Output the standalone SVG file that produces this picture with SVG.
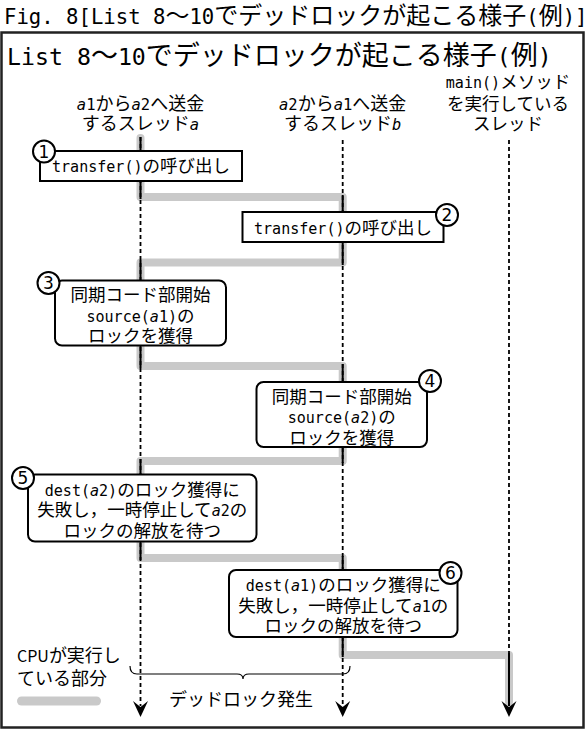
<svg xmlns="http://www.w3.org/2000/svg" width="587" height="731" viewBox="0 0 587 731">
<style>
text { font-family: "Noto Sans CJK JP", sans-serif; fill: #000; }
.m { font-family: "DejaVu Sans Mono", "Noto Sans CJK JP", monospace; font-size: 0.86em; }
.i { font-style: italic; }
.c { text-anchor: middle; }
.t { font-size: 17.5px; }
.box { fill: #fff; stroke: #000; stroke-width: 2; }
.num { fill: #fff; stroke: #000; stroke-width: 2; }
.dg { font-family: "DejaVu Sans", sans-serif; font-size: 17px; text-anchor: middle; }
.life { stroke: #000; stroke-width: 1.8; stroke-dasharray: 4 3; fill: none; }
.run { stroke: #000; stroke-width: 2; fill: none; }
.cpu { stroke: #c9c9c9; stroke-width: 8; fill: none; stroke-linejoin: round; stroke-linecap: round; }
</style>
<defs>
<path id="ah" d="M-7.5,-16 L0,0 L7.5,-16 L0,-10 Z" fill="#000"/>
</defs>
<rect width="587" height="731" fill="#fff"/>
<text x="4" y="24" font-size="24"><tspan class="m" font-size="19.5">Fig. 8[List 8</tspan>〜<tspan class="m" font-size="19.5">10</tspan>でデッドロックが起こる様子<tspan class="m" font-size="19.5">(</tspan>例<tspan class="m" font-size="19.5">)]</tspan></text>
<rect x="1.5" y="32.5" width="582" height="695" fill="none" stroke="#222" stroke-width="2.5"/>
<text x="7" y="65" font-size="27"><tspan class="m" font-size="23">List 8</tspan>〜<tspan class="m" font-size="23">10</tspan>でデッドロックが起こる様子<tspan class="m" font-size="23">(</tspan>例<tspan class="m" font-size="23">)</tspan></text>

<g id="thread-a">
<text class="c" x="140.5" y="110" font-size="18"><tspan class="m i">a</tspan><tspan class="m">1</tspan>から<tspan class="m i">a</tspan><tspan class="m">2</tspan>へ送金</text>
<text class="c" x="140.5" y="130" font-size="18">するスレッド<tspan class="m i">a</tspan></text>
</g>
<g id="thread-b">
<text class="c" x="342.7" y="110" font-size="18"><tspan class="m i">a</tspan><tspan class="m">2</tspan>から<tspan class="m i">a</tspan><tspan class="m">1</tspan>へ送金</text>
<text class="c" x="342.7" y="130" font-size="18">するスレッド<tspan class="m i">b</tspan></text>
</g>
<g id="thread-main">
<text class="c" x="508" y="88" font-size="17.5"><tspan class="m">main()</tspan>メソッド</text>
<text class="c" x="508" y="109.5" font-size="17.5">を実行している</text>
<text class="c" x="508" y="130" font-size="17.5">スレッド</text>
</g>

<g id="connectors">
<path class="cpu" d="M140.5,138 V197 H342.7 V262.5 H140.5 V366 H342.7 V461 H140.5 V558 H342.7 V655 H509 V702"/>
<line class="life" x1="140.5" y1="137" x2="140.5" y2="706"/>
<line class="life" x1="342.7" y1="140" x2="342.7" y2="706"/>
<line class="life" x1="509" y1="140" x2="509" y2="706"/>
<path class="run" d="M140.5,137 V199 M140.5,260 V368 M140.5,459 V560 M342.7,195 V265 M342.7,364 V463 M342.7,556 V657 M509,653 V706"/>
<use href="#ah" x="140.5" y="717"/>
<use href="#ah" x="342.7" y="717"/>
<use href="#ah" x="509" y="717"/>
<path d="M130,666 Q130,674 137,674 H237 Q243,674 243,679 Q243,674 249,674 H343 Q350,674 350,666" fill="none" stroke="#000" stroke-width="1.2"/>
</g>

<g id="step1">
<rect class="box" x="40" y="151" width="202" height="30"/>
<text class="c t" x="141" y="172"><tspan class="m">transfer()</tspan>の呼び出し</text>
<circle class="num" cx="44" cy="151.5" r="11"/>
<text class="dg" x="44" y="157.5">1</text>
</g>
<g id="step2">
<rect class="box" x="242.5" y="212" width="201" height="30"/>
<text class="c t" x="343" y="233.5"><tspan class="m">transfer()</tspan>の呼び出し</text>
<circle class="num" cx="447" cy="215" r="11"/>
<text class="dg" x="447" y="221">2</text>
</g>
<g id="step3">
<rect class="box" x="55" y="280.5" width="171" height="65" rx="7"/>
<text class="c t" x="140.5" y="301">同期コード部開始</text>
<text class="c t" x="140.5" y="321.5"><tspan class="m">source(</tspan><tspan class="m i">a</tspan><tspan class="m">1)</tspan>の</text>
<text class="c t" x="140.5" y="342">ロックを獲得</text>
<circle class="num" cx="48.5" cy="283" r="11"/>
<text class="dg" x="48.5" y="289">3</text>
</g>
<g id="step4">
<rect class="box" x="256.5" y="382" width="170.5" height="65" rx="7"/>
<text class="c t" x="341.7" y="402.5">同期コード部開始</text>
<text class="c t" x="341.7" y="423"><tspan class="m">source(</tspan><tspan class="m i">a</tspan><tspan class="m">2)</tspan>の</text>
<text class="c t" x="341.7" y="443.5">ロックを獲得</text>
<circle class="num" cx="430" cy="381" r="11"/>
<text class="dg" x="430" y="387">4</text>
</g>
<g id="step5">
<rect class="box" x="28" y="474.5" width="228.5" height="67" rx="7"/>
<text class="c t" x="142.2" y="495.5"><tspan class="m">dest(</tspan><tspan class="m i">a</tspan><tspan class="m">2)</tspan>のロック獲得に</text>
<text class="c t" x="142.2" y="516">失敗し，一時停止して<tspan class="m i">a</tspan><tspan class="m">2</tspan>の</text>
<text class="c t" x="142.2" y="536.5">ロックの解放を待つ</text>
<circle class="num" cx="23" cy="478" r="11"/>
<text class="dg" x="23" y="484">5</text>
</g>
<g id="step6">
<rect class="box" x="229" y="570" width="228.5" height="67" rx="7"/>
<text class="c t" x="343.2" y="591"><tspan class="m">dest(</tspan><tspan class="m i">a</tspan><tspan class="m">1)</tspan>のロック獲得に</text>
<text class="c t" x="343.2" y="611.5">失敗し，一時停止して<tspan class="m i">a</tspan><tspan class="m">1</tspan>の</text>
<text class="c t" x="343.2" y="632">ロックの解放を待つ</text>
<circle class="num" cx="450.5" cy="573" r="11"/>
<text class="dg" x="450.5" y="579">6</text>
</g>

<g id="deadlock-label">
<text class="c" x="241" y="706" font-size="18">デッドロック発生</text>
</g>
<g id="legend">
<text x="17" y="662" font-size="18"><tspan font-size="16">CPU</tspan>が実行し</text>
<text x="17" y="685" font-size="18">ている部分</text>
<rect x="17" y="696.5" width="84" height="9" rx="4.5" fill="#c9c9c9"/>
</g>
</svg>
